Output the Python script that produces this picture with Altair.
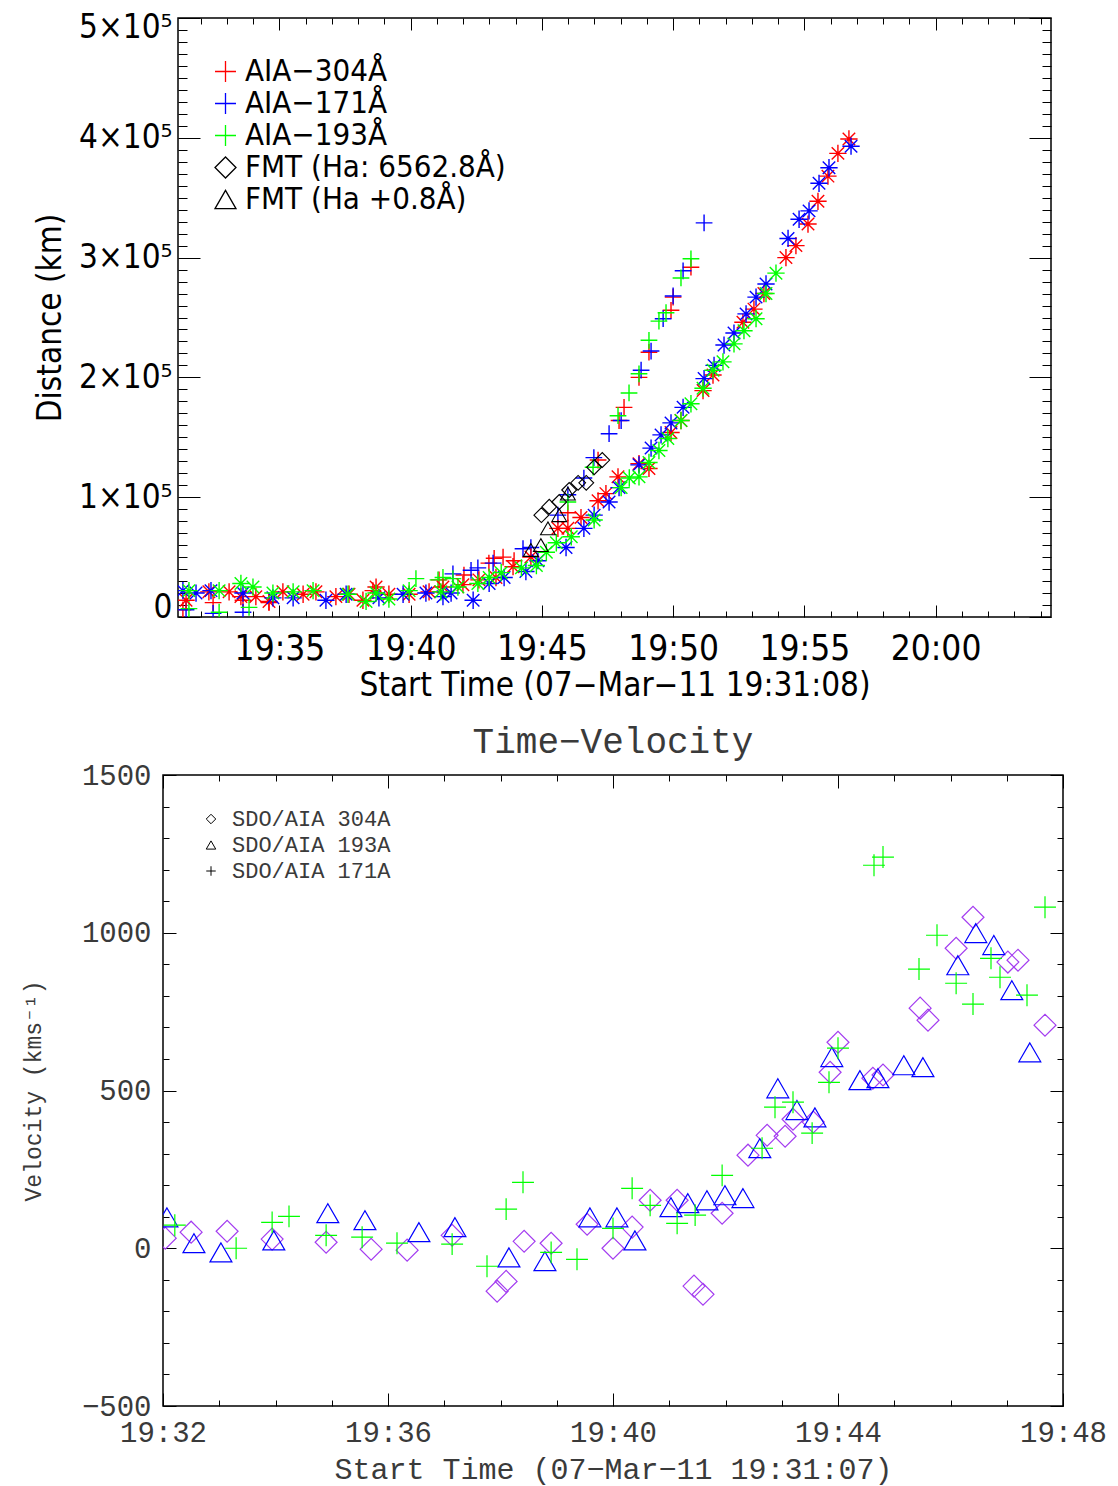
import altair as alt
import pandas as pd

# ---------------- top panel: distance (time in minutes after 19:00, km) ----------------
red_star = [(31.44,14000),(32.31,21000),(33.08,21000),(33.53,17000),(34.10,17000),(34.60,13000),
            (35.13,21000),(35.90,19000),(36.39,21000),(37.15,17000),(37.65,19000),(38.18,14000),
            (38.68,25000),(39.17,19000),(39.94,19000),(40.70,21000),(41.23,25000),(41.99,27000),
            (42.60,31000),(43.25,33000),(43.90,42000),(44.58,50000),(45.61,74000),(45.99,74000),
            (46.49,83000),(47.14,97000),(47.44,103000),(47.90,117000),(48.70,128000),(49.08,124000),
            (49.92,154000),(50.30,164000),(51.14,189000),(51.52,202000),(52.66,246000),(53.08,257000),
            (53.46,270000),(54.30,300000),(54.68,310000),(55.14,328000),(55.52,347000),(55.90,368000),
            (56.28,387000),(56.70,399000)]
blue_star = [(31.32,22000),(31.82,20000),(32.39,22000),(33.61,20000),(34.75,16000),(35.52,16000),
             (36.77,14000),(37.54,19000),(38.79,16000),(39.71,19000),(40.58,20000),(41.23,17000),
             (41.54,20000),(42.38,14000),(42.99,28000),(43.56,33000),(44.39,38000),(44.85,47000),
             (45.92,58000),(46.60,74000),(46.99,85000),(47.56,96000),(47.94,108000),(48.70,127000),
             (49.16,141000),(49.54,152000),(49.92,162000),(50.38,175000),(51.18,199000),(51.56,210000),
             (51.94,227000),(52.32,237000),(52.78,253000),(53.16,267000),(53.54,278000),(54.38,316000),
             (54.80,332000),(55.18,339000),(55.56,362000),(55.94,375000),(56.78,393000)]
green_star = [(31.55,22000),(32.70,22000),(33.53,28000),(33.99,25000),(34.75,20000),(35.52,21000),
              (36.28,22000),(37.61,19000),(38.30,13000),(38.68,20000),(39.17,15000),(39.94,22000),
              (41.15,21000),(41.80,25000),(42.56,28000),(42.99,33000),(43.45,37000),(44.22,41000),
              (44.79,43000),(45.17,54000),(45.55,62000),(46.12,67000),(46.99,81000),(48.02,108000),
              (48.33,116000),(48.70,117000),(49.08,129000),(49.46,139000),(49.80,149000),(50.30,164000),
              (50.68,178000),(51.14,191000),(51.52,206000),(51.90,213000),(52.32,228000),(52.70,239000),
              (53.16,249000),(53.54,270000),(53.92,287000)]
red_plus = [(31.32,6000),(32.47,12000),(33.61,14000),(34.60,12000),(38.56,22000),(41.08,31000),
            (42.03,35000),(42.98,45000),(43.18,49000),(43.52,50000),(43.94,47000),(45.99,87000),
            (47.14,131000),(47.94,164000),(48.13,175000),(48.70,200000),(49.08,221000),(49.92,256000),
            (50.00,267000),(50.68,292000)]
blue_plus = [(31.44,6000),(32.47,3000),(33.61,4000),(41.61,36000),(42.30,39000),(42.56,41000),
             (43.14,45000),(44.28,57000),(44.58,58000),(45.61,85000),(45.99,102000),(46.60,116000),
             (46.98,133000),(47.56,153000),(48.02,164000),(48.78,206000),(49.16,222000),(49.62,249000),
             (50.00,268000),(50.38,289000),(51.18,329000)]
green_plus = [(31.55,7000),(32.70,4000),(33.84,8000),(40.20,32000),(41.04,31000),(41.23,33000),
              (41.61,32000),(45.99,96000),(46.95,125000),(47.90,168000),(48.32,187000),(48.70,203000),
              (49.08,231000),(49.46,247000),(49.73,254000),(50.30,283000),(50.68,299000)]
fmt_line = [(44.98,85000),(45.28,92000),(45.66,96000),(46.04,106000),(46.38,112000),(46.69,112000),
            (46.99,125000),(47.30,131000)]
fmt_wing = [(44.58,56000),(44.96,60000),(45.23,74000),(45.66,85000),(45.99,103000)]

top_series = ["AIA\u2212304\u00c5", "AIA\u2212171\u00c5", "AIA\u2212193\u00c5",
              "FMT (Ha: 6562.8\u00c5)", "FMT (Ha +0.8\u00c5)"]
top_colors = ["#ff0000", "#0000ff", "#00ff00", "#000000", "#000000"]
top_x_major = [35, 40, 45, 50, 55, 60]
top_x_minor = [32, 33, 34, 36, 37, 38, 39, 41, 42, 43, 44, 46, 47, 48, 49, 51, 52, 53, 54,
               56, 57, 58, 59, 61, 62, 63, 64]
top_y_major = [0, 100000, 200000, 300000, 400000, 500000]
top_y_minor = [v * 10000 for v in range(1, 50) if v % 10 != 0]

# ---------------- bottom panel: velocity (time in minutes after 19:00, km/s) ----------------
v304 = [(32.04,32),(32.50,51),(33.14,54),(33.94,29),(34.90,19),(35.70,-3),(36.34,-6),(37.14,41),
        (37.94,-136),(38.10,-105),(38.42,22),(38.90,16),(39.54,76),(40.00,0),(40.34,67),(40.66,152),
        (41.14,152),(41.44,-120),(41.60,-146),(41.94,111),(42.40,295),(42.74,358),(43.06,355),
        (43.20,409),(43.56,400),(43.86,558),(44.00,653),(44.62,539),(44.80,549),(45.46,761),
        (45.60,723),(46.10,951),(46.40,1049),(47.02,907),(47.20,913),(47.68,707)]
v193 = [(32.07,98),(32.55,16),(33.03,-13),(33.97,25),(34.93,111),(35.59,89),(36.55,51),(37.19,67),
        (38.15,-29),(38.79,-41),(39.59,98),(40.07,98),(40.39,25),(41.03,130),(41.33,143),(41.67,152),
        (41.99,168),(42.31,159),(42.61,317),(42.93,507),(43.27,438),(43.59,415),(43.89,606),
        (44.39,533),(44.71,539),(45.17,580),(45.51,574),(46.13,897),(46.45,999),(46.77,961),
        (47.09,818),(47.41,621)]
v171 = [(32.21,73),(33.30,0),(33.94,82),(34.24,101),(34.90,41),(35.54,35),(36.16,16),(37.14,13),
        (37.76,-57),(38.10,124),(38.40,209),(38.90,-13),(39.36,-35),(40.00,63),(40.34,190),(40.66,136),
        (41.14,79),(41.46,105),(41.94,231),(42.65,317),(42.88,447),(43.20,463),(43.54,365),(43.84,526),
        (44.00,634),(44.64,1214),(44.80,1240),(45.44,885),(45.76,992),(46.10,840),(46.40,774),
        (46.72,919),(46.88,859),(47.36,802),(47.68,1081)]

bot_bands = ["304A", "193A", "171A"]
bot_series = ["SDO/AIA 304A", "SDO/AIA 193A", "SDO/AIA 171A"]
bot_colors = ["#a33cf0", "#0000ff", "#00ff00"]
bot_x_major = [32, 36, 40, 44, 48]
bot_x_minor = [33, 34, 35, 37, 38, 39, 41, 42, 43, 45, 46, 47]
bot_y_major = [-500, 0, 500, 1000, 1500]
bot_y_minor = [v for v in range(-400, 1500, 100) if v % 500 != 0]

PLUS = "M-1,0L1,0M0,-1L0,1"
STAR = "M-1,0L1,0M0,-1L0,1M-0.72,-0.72L0.72,0.72M-0.72,0.72L0.72,-0.72"

FONT_T = "DejaVu Sans Condensed, DejaVu Sans"
FONT_B = "Liberation Mono, DejaVu Sans Mono"
GREY = "#3a3a3a"
TIME_EXPR = ("(19 + floor(datum.value / 60)) + ':' + "
             "(datum.value % 60 < 10 ? '0' : '') + (datum.value % 60)")


def frame(df, xs, ys, W, H, xmaj, xmin, ymaj, ymin, xl, xs_, yl, ys_):
    """Invisible layers that carry the inward ticks on all four sides
    (an axis of the opposite orient, pulled across the plot by a negative offset)."""
    out = []
    for ox, offx, oy, offy in [("top", -H, "right", -W), ("bottom", -H, "left", -W)]:
        for xv, yv, xsz, ysz in [(xmaj, ymaj, xl, yl), (xmin, ymin, xs_, ys_)]:
            out.append(alt.Chart(df).mark_point(opacity=0).encode(
                x=alt.X("t:Q", scale=xs, title=None,
                        axis=alt.Axis(orient=ox, offset=offx, values=xv, tickSize=xsz,
                                      labels=False, domain=False, grid=False,
                                      tickColor="black", tickWidth=1)),
                y=alt.Y("v:Q", scale=ys, title=None,
                        axis=alt.Axis(orient=oy, offset=offy, values=yv, tickSize=ysz,
                                      labels=False, domain=False, grid=False,
                                      tickColor="black", tickWidth=1)),
            ))
    return out


def rows(pairs, name, key=None):
    return pd.DataFrame([{"t": a, "v": b, "s": name, "k": key or name} for a, b in pairs])


# ---------------- build top chart ----------------
TW, TH = 873, 599
STRIP = 12  # narrow strip left of the upper box, carrying its labelled distance axis
xs_t = alt.Scale(domain=[31.133, 64.40], nice=False, zero=False)
ys_t = alt.Scale(domain=[0, 500000], nice=False)

plus_df = pd.concat([rows(red_plus, top_series[0]), rows(blue_plus, top_series[1]),
                     rows(green_plus, top_series[2])])
star_df = pd.concat([rows(red_star, top_series[0]), rows(blue_star, top_series[1]),
                     rows(green_star, top_series[2])])
fmt_df = pd.concat([rows(fmt_line, top_series[3]), rows(fmt_wing, top_series[4])])

top_color = alt.Scale(domain=top_series, range=top_colors)
top_shape = alt.Scale(domain=top_series, range=[PLUS, PLUS, PLUS, "diamond", "triangle-up"])
top_legend = alt.Legend(orient="none", legendX=47, legendY=38, title=None, padding=0,
                        labelFont=FONT_T, labelFontSize=31, labelColor="black", labelLimit=600,
                        symbolSize=440, symbolStrokeWidth=1.3, rowPadding=0, labelOffset=4)

xaxis_t = alt.Axis(orient="bottom", values=top_x_major, ticks=False, domain=False, grid=False,
                   labelExpr=TIME_EXPR, labelFont=FONT_T, labelFontSize=35, labelColor="black",
                   labelPadding=14, labelFlush=False, titleFont=FONT_T, titleFontSize=33,
                   titleColor="black", titleFontWeight="normal", titlePadding=3)
yaxis_t = alt.Axis(orient="left", offset=-10, values=top_y_major, ticks=False, domain=False,
                   grid=False,
                   labelExpr="datum.value == 0 ? '0' : format(datum.value / 100000, 'd') + '\u00d710\u2075'",
                   labelFont=FONT_T, labelFontSize=33, labelColor="black", labelPadding=1,
                   labelFlush=True, labelFlushOffset=7, titleFont=FONT_T, titleFontSize=33,
                   titleColor="black", titleFontWeight="normal", titlePadding=11)

top_yaxis = alt.Chart(fmt_df).mark_point(opacity=0).encode(
    y=alt.Y("v:Q", scale=ys_t, axis=yaxis_t, title="Distance (km)"),
).properties(width=STRIP, height=TH, view=alt.ViewBackground(stroke="transparent"))

top_main = alt.Chart(plus_df).mark_point(shape=PLUS, filled=False, size=280, strokeWidth=1.4,
                                         clip=True, opacity=1).encode(
    x=alt.X("t:Q", scale=xs_t, axis=xaxis_t, title="Start Time (07\u2212Mar\u221211 19:31:08)"),
    y=alt.Y("v:Q", scale=ys_t, axis=None),
    color=alt.Color("s:N", scale=top_color, legend=top_legend),
    shape=alt.Shape("s:N", scale=top_shape, legend=top_legend),
)
top_star = alt.Chart(star_df).mark_point(shape=STAR, filled=False, size=300, strokeWidth=1.4,
                                         clip=True, opacity=1).encode(
    x=alt.X("t:Q", scale=xs_t, axis=None),
    y=alt.Y("v:Q", scale=ys_t, axis=None),
    color=alt.Color("s:N", scale=top_color, legend=None),
)
top_fmt = alt.Chart(fmt_df).mark_point(filled=False, size=220, strokeWidth=1.1,
                                       clip=True, opacity=1).encode(
    x=alt.X("t:Q", scale=xs_t, axis=None),
    y=alt.Y("v:Q", scale=ys_t, axis=None),
    color=alt.Color("s:N", scale=top_color, legend=top_legend),
    shape=alt.Shape("s:N", scale=top_shape, legend=top_legend),
)

top = alt.layer(
    top_main, top_star, top_fmt,
    *frame(fmt_df, xs_t, ys_t, TW, TH, top_x_major, top_x_minor, top_y_major, top_y_minor,
           12, 6, 22, 9),
).resolve_axis(x="independent", y="independent").properties(width=TW, height=TH)

top_row = alt.hconcat(top_yaxis, top, spacing=0)

# ---------------- build bottom chart ----------------
BW, BH = 900, 631
xs_b = alt.Scale(domain=[32, 48], nice=False, zero=False)
ys_b = alt.Scale(domain=[-500, 1500], nice=False)

vel_df = pd.concat([rows(v304, bot_bands[0], bot_series[0]),
                    rows(v193, bot_bands[1], bot_series[1]),
                    rows(v171, bot_bands[2], bot_series[2])])
bot_color = alt.Scale(domain=bot_bands, range=bot_colors)
bot_shape = alt.Scale(domain=bot_series, range=["diamond", "triangle-up", PLUS])
bot_legend = alt.Legend(orient="none", legendX=37, legendY=33, title=None, padding=0,
                        labelFont=FONT_B, labelFontSize=22, labelColor=GREY, labelLimit=600,
                        symbolSize=90, symbolStrokeWidth=1, symbolStrokeColor="black",
                        symbolFillColor="transparent", rowPadding=4, labelOffset=10)

xaxis_b = alt.Axis(orient="bottom", values=bot_x_major, ticks=False, domain=False, grid=False,
                   labelExpr=TIME_EXPR, labelFont=FONT_B, labelFontSize=29, labelColor=GREY,
                   labelPadding=12, labelFlush=False, titleFont=FONT_B, titleFontSize=30,
                   titleColor=GREY, titleFontWeight="normal", titlePadding=7)
yaxis_b = alt.Axis(orient="left", values=bot_y_major, ticks=False, domain=False, grid=False,
                   format="d", labelFont=FONT_B, labelFontSize=29, labelColor=GREY,
                   labelPadding=12, labelFlush=False, titleFont=FONT_B, titleFontSize=23,
                   titleColor=GREY, titleFontWeight="normal", titlePadding=36)

bot_main = alt.Chart(vel_df).mark_point(filled=False, size=480, strokeWidth=1.2, clip=True,
                                        opacity=1).encode(
    x=alt.X("t:Q", scale=xs_b, axis=xaxis_b, title="Start Time (07\u2212Mar\u221211 19:31:07)"),
    y=alt.Y("v:Q", scale=ys_b, axis=yaxis_b, title="Velocity (kms\u207b\u00b9)"),
    color=alt.Color("s:N", scale=bot_color, legend=None),
    shape=alt.Shape("k:N", scale=bot_shape, legend=bot_legend),
)

bottom = alt.layer(
    bot_main,
    *frame(vel_df, xs_b, ys_b, BW, BH, bot_x_major, bot_x_minor, bot_y_major, bot_y_minor,
           13, 6, 13, 6),
).resolve_axis(x="independent", y="independent").properties(
    width=BW, height=BH,
    title=alt.TitleParams("Time\u2212Velocity", font=FONT_B, fontSize=36, color=GREY,
                          fontWeight="normal", anchor="middle", offset=0),
)

chart = alt.vconcat(top_row, alt.hconcat(bottom), spacing=20).resolve_scale(
    color="independent", shape="independent"
).properties(
    padding={"left": 21, "top": 10, "right": 5, "bottom": 5},
    background="white",
).configure_view(stroke="black", strokeWidth=1.5)

chart.save("out.html", embed_options={"renderer": "svg", "actions": False})
